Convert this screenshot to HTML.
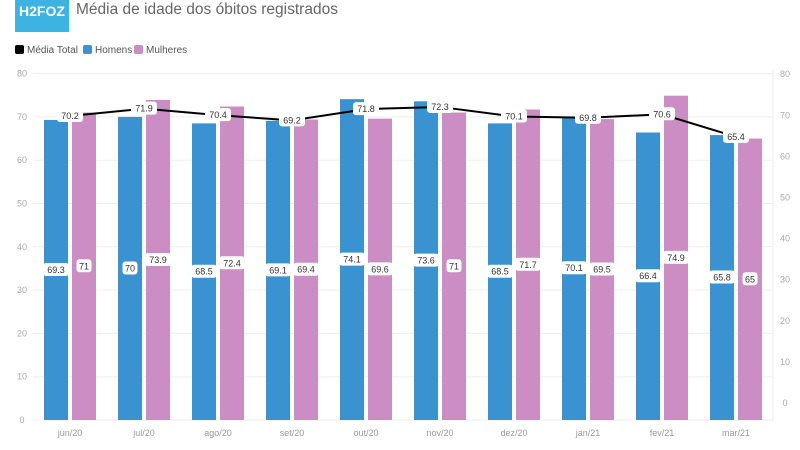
<!DOCTYPE html>
<html><head><meta charset="utf-8"><style>
body{margin:0;background:#fff;width:800px;height:445px;overflow:hidden;font-family:"Liberation Sans",sans-serif}
</style></head><body>
<svg width="800" height="445" xmlns="http://www.w3.org/2000/svg" font-family="Liberation Sans, sans-serif">
<rect x="15" y="0" width="54" height="32" fill="#3db3e2"/>
<text x="19" y="16" font-size="14" font-weight="bold" fill="#fff">H2FOZ</text>
<text x="76" y="14" font-size="15.5" fill="#666">Média de idade dos óbitos registrados</text>
<rect x="15" y="45" width="9" height="9" rx="2" fill="#000"/><text x="27" y="53" font-size="10" fill="#555">Média Total</text>
<rect x="83" y="45" width="9" height="9" rx="2" fill="#3a93d0"/><text x="95" y="53" font-size="10" fill="#555">Homens</text>
<rect x="134" y="45" width="9" height="9" rx="2" fill="#cc8cc4"/><text x="146" y="53" font-size="10" fill="#555">Mulheres</text>
<g id="g"></g>
</svg>
<script>
const g=document.getElementById('g');let s='';
const y0=420,k=4.33;
for(let v=0;v<=80;v+=10){const y=y0-v*k;s+=`<line x1="33" x2="773" y1="${y}" y2="${y}" stroke="#eee"/><text x="22" y="${y+3}" font-size="9" fill="#aaa" text-anchor="middle">${v}</text>`;
const yr=403-v*4.11;s+=`<text x="785" y="${yr+3}" font-size="9" fill="#aaa" text-anchor="middle">${v}</text>`;}
s+=`<line x1="773" x2="773" y1="70" y2="420" stroke="#eee"/>`;
const cats=['jun/20','jul/20','ago/20','set/20','out/20','nov/20','dez/20','jan/21','fev/21','mar/21'];
const H=[69.3,70,68.5,69.1,74.1,73.6,68.5,70.1,66.4,65.8],M=[71,73.9,72.4,69.4,69.6,71,71.7,69.5,74.9,65],T=[70.2,71.9,70.4,69.2,71.8,72.3,70.1,69.8,70.6,65.4];
function lab(x,y,t){const w=t.length*5.5+4;return `<rect x="${x-w/2}" y="${y-7}" width="${w}" height="13" rx="3" fill="#fff"/><text x="${x}" y="${y+3}" font-size="9" fill="#333" text-anchor="middle">${t}</text>`}
let pts=[];
cats.forEach((c,i)=>{const cx=70+74*i;
const hh=H[i]*k,mh=M[i]*k;
s+=`<rect x="${cx-26}" y="${y0-hh}" width="24" height="${hh}" fill="#3a93d0"/><rect x="${cx+2}" y="${y0-mh}" width="24" height="${mh}" fill="#cc8cc4"/>`;
s+=lab(cx-14,y0-hh/2,String(H[i]))+lab(cx+14,y0-mh/2,String(M[i]));
s+=`<text x="${cx}" y="436" font-size="9" fill="#999" text-anchor="middle">${c}</text>`;
pts.push([cx,y0-T[i]*k]);});
s+=`<polyline points="${pts.map(p=>p.join(',')).join(' ')}" fill="none" stroke="#000" stroke-width="2"/>`;
pts.forEach((p,i)=>s+=lab(p[0],p[1],String(T[i])));
g.innerHTML=s;
</script>
</body></html>
